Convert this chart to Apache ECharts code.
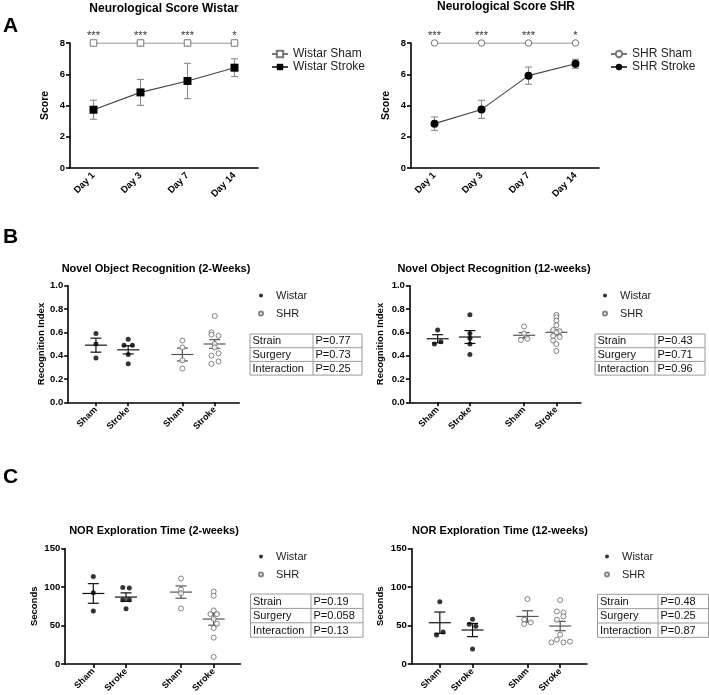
<!DOCTYPE html>
<html><head><meta charset="utf-8">
<script src="https://cdn.jsdelivr.net/npm/echarts@6/dist/echarts.min.js"></script>
<style>html,body{margin:0;padding:0;background:#fff}#c{width:709px;height:695px}</style>
</head><body><div id="c"></div>
<script>
// ================= DATA =================
// Panel A – neurological score
const days = ['Day 1', 'Day 3', 'Day 7', 'Day 14'];
const wistarSham = [8, 8, 8, 8];
const wistarStroke = [3.73, 4.84, 5.57, 6.42];
const wistarStrokeErr = [0.61, 0.83, 1.13, 0.57];
const wistarSig = ['***', '***', '***', '*'];
const shrSham = [8, 8, 8, 8];
const shrStroke = [2.84, 3.75, 5.91, 6.67];
const shrStrokeErr = [0.43, 0.58, 0.55, 0.29];
const shrSig = ['***', '***', '***', '*'];

// Panels B/C – group layout on the x axis
const groupLabels = ['Sham', 'Stroke', 'Sham', 'Stroke'];
const groupPos = [1, 2, 3.68, 4.68];
const legendNames = ['Wistar', 'SHR'];
const tableRows = ['Strain', 'Surgery', 'Interaction'];

// B left – Novel Object Recognition (2-Weeks)
const nor2WistarSham = [0.59, 0.50, 0.38];
const nor2WistarShamJit = [0, 0, 0];
const nor2WistarStroke = [0.54, 0.49, 0.49, 0.41, 0.33];
const nor2WistarStrokeJit = [0, -0.13, 0.13, 0, 0];
const nor2ShrSham = [0.53, 0.47, 0.36, 0.29];
const nor2ShrShamJit = [0, 0, 0, 0];
const nor2ShrStroke = [0.74, 0.60, 0.58, 0.57, 0.50, 0.47, 0.42, 0.40, 0.35, 0.33];
const nor2ShrStrokeJit = [0, -0.1, -0.1, 0.12, 0, 0, 0.12, -0.1, 0.12, -0.1];
const nor2Mean = [0.49, 0.45, 0.41, 0.50];
const nor2Sem = [0.06, 0.035, 0.055, 0.037];
const nor2P = ['P=0.77', 'P=0.73', 'P=0.25'];

// B right – Novel Object Recognition (12-weeks)
const nor12WistarSham = [0.62, 0.52, 0.50];
const nor12WistarShamJit = [0, 0.1, -0.1];
const nor12WistarStroke = [0.75, 0.59, 0.55, 0.50, 0.41];
const nor12WistarStrokeJit = [0, 0, 0, 0, 0];
const nor12ShrSham = [0.65, 0.59, 0.545, 0.535];
const nor12ShrShamJit = [0, 0, 0.1, -0.1];
const nor12ShrStroke = [0.75, 0.73, 0.70, 0.66, 0.62, 0.61, 0.60, 0.57, 0.56, 0.53, 0.50, 0.44];
const nor12ShrStrokeJit = [0, 0, 0, 0, -0.1, 0.1, 0, -0.1, 0.1, -0.1, 0, 0];
const nor12Mean = [0.545, 0.56, 0.575, 0.60];
const nor12Sem = [0.035, 0.055, 0.023, 0.022];
const nor12P = ['P=0.43', 'P=0.71', 'P=0.96'];

// C left – NOR Exploration Time (2-weeks)
const exp2WistarSham = [113.8, 92.6, 68.8];
const exp2WistarShamJit = [0, 0, 0];
const exp2WistarStroke = [99.5, 98.7, 83.5, 83.5, 71.8];
const exp2WistarStrokeJit = [-0.1, 0.1, -0.1, 0.1, 0];
const exp2ShrSham = [111.2, 97, 92, 72.2];
const exp2ShrShamJit = [0, 0, 0, 0];
const exp2ShrStroke = [94.3, 88.7, 69.6, 64.9, 64.9, 58.5, 52.3, 46.7, 34.2, 9.1];
const exp2ShrStrokeJit = [0, 0, 0, -0.1, 0.1, 0, 0.1, 0, 0, 0];
const exp2Mean = [91.7, 87, 93.5, 58.4];
const exp2Sem = [12.8, 5.5, 8, 8];
const exp2P = ['P=0.19', 'P=0.058', 'P=0.13'];

// C right – NOR Exploration Time (12-weeks)
const exp12WistarSham = [80.9, 41.5, 37.6];
const exp12WistarShamJit = [0, 0.1, -0.1];
const exp12WistarStroke = [58, 51.5, 48.9, 19.5];
const exp12WistarStrokeJit = [0, -0.1, 0.1, 0];
const exp12ShrSham = [84.4, 57.5, 54, 51.9];
const exp12ShrShamJit = [0, -0.1, 0.1, -0.1];
const exp12ShrStroke = [83.1, 68.3, 67, 61.8, 57.5, 38, 31.6, 28, 28, 29];
const exp12ShrStrokeJit = [0, -0.1, 0.1, 0.1, -0.1, 0, -0.1, -0.27, 0.1, 0.3];
const exp12Mean = [53.6, 44.1, 61.8, 49.3];
const exp12Sem = [13.9, 8.6, 7.4, 6.1];
const exp12P = ['P=0.48', 'P=0.25', 'P=0.87'];

// ================= STYLE / LAYOUT =================
const FF = "'Liberation Sans', Arial, sans-serif";
const chart = echarts.init(document.getElementById('c'), null, {renderer: 'canvas'});

const axisLineStyle = {lineStyle: {color: '#000', width: 1.6}};
const tickStyle = {length: 4, lineStyle: {color: '#000', width: 1.6}};
const tickLabel = (fs) => ({fontSize: fs, fontWeight: 'bold', color: '#000', fontFamily: FF});

const grids = [
  {left: 70, top: 43, width: 188, height: 125},        // A left
  {left: 411, top: 43, width: 188, height: 125},       // A right
  {left: 68.2, top: 285.7, width: 171, height: 116.6}, // B left
  {left: 409.9, top: 285.7, width: 171, height: 116.6},// B right
  {left: 65.2, top: 548.7, width: 175.3, height: 115.6},// C left
  {left: 411.7, top: 548.7, width: 175.3, height: 115.6}// C right
];

function catX(gi) {
  return {
    type: 'category', gridIndex: gi, data: days, boundaryGap: true,
    axisLine: axisLineStyle, axisTick: Object.assign({alignWithLabel: true}, tickStyle),
    axisLabel: Object.assign({rotate: 45, margin: 6, interval: 0}, tickLabel(9.5)),
    splitLine: {show: false}
  };
}
function groupX(gi, max) {
  return {
    type: 'value', gridIndex: gi, min: 0.14, max: max,
    axisLine: axisLineStyle,
    axisTick: Object.assign({customValues: groupPos}, tickStyle),
    axisLabel: Object.assign({
      rotate: 45, margin: 6, customValues: groupPos,
      formatter: (v) => {
        let best = 0;
        groupPos.forEach((p, i) => { if (Math.abs(p - v) < Math.abs(groupPos[best] - v)) best = i; });
        return groupLabels[best];
      }
    }, tickLabel(9)),
    splitLine: {show: false}
  };
}
function valY(gi, min, max, interval, name, nameGap, fmt, fs) {
  return {
    type: 'value', gridIndex: gi, min, max, interval,
    name, nameLocation: 'middle', nameGap, nameRotate: 90,
    nameTextStyle: {fontSize: fs, fontWeight: 'bold', color: '#000', fontFamily: FF},
    axisLine: {show: true, lineStyle: {color: '#000', width: 1.6}},
    axisTick: {show: true, length: 4, lineStyle: {color: '#000', width: 1.6}},
    axisLabel: Object.assign({margin: 5, formatter: fmt}, tickLabel(9.5)),
    splitLine: {show: false}
  };
}

// ---- series helpers ----
function errBarRender(params, api) {
  const i = api.value(0), m = api.value(1), e = api.value(2);
  const t = api.coord([i, m + e]), b = api.coord([i, m - e]);
  const st = {stroke: '#8a8a8a', lineWidth: 1.1};
  return {type: 'group', children: [
    {type: 'line', shape: {x1: t[0], y1: t[1], x2: b[0], y2: b[1]}, style: st},
    {type: 'line', shape: {x1: t[0] - 3.5, y1: t[1], x2: t[0] + 3.5, y2: t[1]}, style: st},
    {type: 'line', shape: {x1: b[0] - 3.5, y1: b[1], x2: b[0] + 3.5, y2: b[1]}, style: st}
  ]};
}
function semRender(params, api) {
  const x = api.value(0), m = api.value(1), s = api.value(2);
  const c = api.coord([x, m]), t = api.coord([x, m + s]), b = api.coord([x, m - s]);
  const col = api.value(3) ? '#555' : '#111';
  const st = {stroke: col, lineWidth: 1.2};
  return {type: 'group', children: [
    {type: 'line', shape: {x1: c[0] - 11, y1: c[1], x2: c[0] + 11, y2: c[1]}, style: st},
    {type: 'line', shape: {x1: t[0] - 5.5, y1: t[1], x2: t[0] + 5.5, y2: t[1]}, style: st},
    {type: 'line', shape: {x1: b[0] - 5.5, y1: b[1], x2: b[0] + 5.5, y2: b[1]}, style: st},
    {type: 'line', shape: {x1: c[0], y1: t[1], x2: c[0], y2: b[1]}, style: st}
  ]};
}

function neuroSeries(gi, shamName, strokeName, sham, stroke, err, sig, shamSymbol, strokeSymbol) {
  return [
    {
      type: 'custom', xAxisIndex: gi, yAxisIndex: gi, renderItem: errBarRender, z: 1,
      data: stroke.map((v, i) => [i, v, err[i]]), silent: true
    },
    {
      type: 'line', name: shamName, xAxisIndex: gi, yAxisIndex: gi, data: sham, z: 3,
      symbol: shamSymbol, symbolSize: 6.5, showAllSymbol: true,
      lineStyle: {color: '#777', width: 1.1}, itemStyle: {color: '#fff', borderColor: '#777', borderWidth: 1},
      label: {show: true, position: 'top', distance: 3, offset: [0, 5], formatter: (p) => sig[p.dataIndex],
              fontSize: 11, color: '#333', fontFamily: FF}
    },
    {
      type: 'line', name: strokeName, xAxisIndex: gi, yAxisIndex: gi, data: stroke, z: 3,
      symbol: strokeSymbol, symbolSize: 8, showAllSymbol: true,
      lineStyle: {color: '#444', width: 1.1}, itemStyle: {color: '#000'}
    }
  ];
}

function pts(groups) {
  const out = [];
  groups.forEach(([gIdx, vals, jit]) => vals.forEach((v, i) => out.push([groupPos[gIdx] + jit[i], v])));
  return out;
}
function dotSeries(gi, ws, wsj, wk, wkj, ss, ssj, sk, skj, mean, sem) {
  return [
    {
      type: 'custom', xAxisIndex: gi, yAxisIndex: gi, renderItem: semRender, z: 2, silent: true,
      data: mean.map((m, i) => [groupPos[i], m, sem[i], i >= 2 ? 1 : 0])
    },
    {
      type: 'scatter', name: 'Wistar', xAxisIndex: gi, yAxisIndex: gi, z: 3,
      symbol: 'circle', symbolSize: 5, itemStyle: {color: '#000'},
      data: pts([[0, ws, wsj], [1, wk, wkj]])
    },
    {
      type: 'scatter', name: 'SHR', xAxisIndex: gi, yAxisIndex: gi, z: 3,
      symbol: 'circle', symbolSize: 5, itemStyle: {color: '#fff', borderColor: '#666', borderWidth: 1},
      data: pts([[2, ss, ssj], [3, sk, skj]])
    }
  ];
}

function table(x, y, w1, w2, rowH, pvals, fs) {
  const children = [];
  const W = w1 + w2, H = rowH * 3;
  children.push({type: 'rect', shape: {x: 0, y: 0, width: W, height: H}, style: {fill: '#fff', stroke: '#9a9a9a', lineWidth: 1}});
  for (let i = 1; i < 3; i++) children.push({type: 'line', shape: {x1: 0, y1: rowH * i, x2: W, y2: rowH * i}, style: {stroke: '#9a9a9a', lineWidth: 1}});
  children.push({type: 'line', shape: {x1: w1, y1: 0, x2: w1, y2: H}, style: {stroke: '#9a9a9a', lineWidth: 1}});
  tableRows.forEach((l, i) => {
    children.push({type: 'text', x: 2.5, y: rowH * (i + 0.5) + 0.5, style: {text: l, fontSize: fs, fontFamily: FF, fill: '#111', verticalAlign: 'middle'}});
    children.push({type: 'text', x: w1 + 2.5, y: rowH * (i + 0.5) + 0.5, style: {text: pvals[i], fontSize: fs, fontFamily: FF, fill: '#111', verticalAlign: 'middle'}});
  });
  return {type: 'group', x, y, children};
}

function titleAt(text, x, y, fs) {
  return {text, left: x, top: y, textAlign: 'center', textVerticalAlign: 'middle', padding: 0,
          textStyle: {fontSize: fs, fontWeight: 'bold', color: '#000', fontFamily: FF}};
}
function letterAt(text, x, y) {
  return {text, left: x, top: y, textAlign: 'left', textVerticalAlign: 'middle', padding: 0,
          textStyle: {fontSize: 21, fontWeight: 'bold', color: '#000', fontFamily: FF}};
}
function neuroLegend(names, x, y) {
  return {data: names, left: x, top: y, orient: 'vertical', itemWidth: 16, itemHeight: 8, itemGap: 1,
          padding: 0, selectedMode: false, textStyle: {fontSize: 12, color: '#222', fontFamily: FF}};
}
function dotLegend(x, y) {
  return {data: legendNames, left: x, top: y, orient: 'vertical', itemWidth: 4, itemHeight: 4, itemGap: 7,
          padding: 0, selectedMode: false, textStyle: {fontSize: 11, color: '#222', fontFamily: FF, padding: [0, 0, 0, 8]}};
}

const option = {
  animation: false,
  backgroundColor: '#fff',
  title: [
    letterAt('A', 3, 26), letterAt('B', 3, 237), letterAt('C', 3, 477),
    titleAt('Neurological Score Wistar', 164, 9, 12),
    titleAt('Neurological Score SHR', 506, 7, 12),
    titleAt('Novel Object Recognition (2-Weeks)', 156, 269, 11),
    titleAt('Novel Object Recognition (12-weeks)', 494, 269, 11),
    titleAt('NOR Exploration Time (2-weeks)', 154, 531, 11),
    titleAt('NOR Exploration Time (12-weeks)', 500, 531, 11)
  ],
  legend: [
    neuroLegend(['Wistar Sham', 'Wistar Stroke'], 271, 48),
    neuroLegend(['SHR Sham', 'SHR Stroke'], 610, 48),
    dotLegend(258, 290), dotLegend(602, 290),
    dotLegend(258, 551), dotLegend(604, 551)
  ],
  grid: grids,
  xAxis: [catX(0), catX(1), groupX(2, 5.44), groupX(3, 5.44), groupX(4, 5.5), groupX(5, 5.5)],
  yAxis: [
    valY(0, 0, 8, 2, 'Score', 19, null, 10.5),
    valY(1, 0, 8, 2, 'Score', 19, null, 10.5),
    valY(2, 0, 1, 0.2, 'Recognition Index', 21, (v) => v.toFixed(1), 9.5),
    valY(3, 0, 1, 0.2, 'Recognition Index', 25, (v) => v.toFixed(1), 9.5),
    valY(4, 0, 150, 50, 'Seconds', 26, null, 9.5),
    valY(5, 0, 150, 50, 'Seconds', 26, null, 9.5)
  ],
  series: [].concat(
    neuroSeries(0, 'Wistar Sham', 'Wistar Stroke', wistarSham, wistarStroke, wistarStrokeErr, wistarSig, 'rect', 'rect'),
    neuroSeries(1, 'SHR Sham', 'SHR Stroke', shrSham, shrStroke, shrStrokeErr, shrSig, 'circle', 'circle'),
    dotSeries(2, nor2WistarSham, nor2WistarShamJit, nor2WistarStroke, nor2WistarStrokeJit,
              nor2ShrSham, nor2ShrShamJit, nor2ShrStroke, nor2ShrStrokeJit, nor2Mean, nor2Sem),
    dotSeries(3, nor12WistarSham, nor12WistarShamJit, nor12WistarStroke, nor12WistarStrokeJit,
              nor12ShrSham, nor12ShrShamJit, nor12ShrStroke, nor12ShrStrokeJit, nor12Mean, nor12Sem),
    dotSeries(4, exp2WistarSham, exp2WistarShamJit, exp2WistarStroke, exp2WistarStrokeJit,
              exp2ShrSham, exp2ShrShamJit, exp2ShrStroke, exp2ShrStrokeJit, exp2Mean, exp2Sem),
    dotSeries(5, exp12WistarSham, exp12WistarShamJit, exp12WistarStroke, exp12WistarStrokeJit,
              exp12ShrSham, exp12ShrShamJit, exp12ShrStroke, exp12ShrStrokeJit, exp12Mean, exp12Sem)
  ),
  graphic: [
    table(250, 334, 63, 49, 13.7, nor2P, 11),
    table(595, 334, 60, 50, 13.7, nor12P, 11),
    table(250.5, 594, 60.5, 52, 14.4, exp2P, 11),
    table(597.5, 594.3, 60.5, 50.5, 14.35, exp12P, 11)
  ]
};
chart.setOption(option);
</script>
</body></html>
